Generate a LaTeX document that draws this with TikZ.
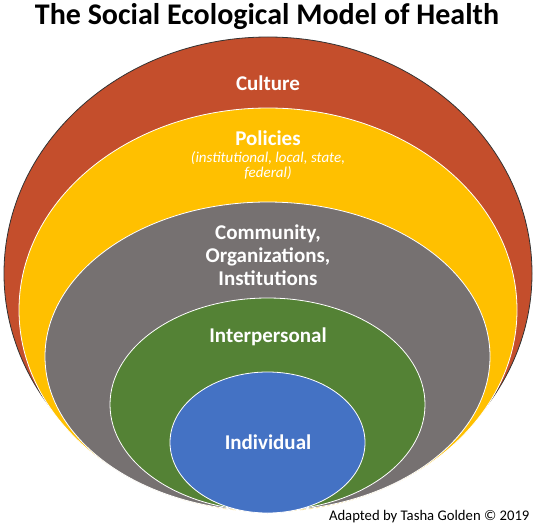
\documentclass[tikz,border=0pt]{standalone}
\usepackage{fontspec}
\setmainfont{Carlito}
\definecolor{culturered}{HTML}{C44E2C}
\definecolor{policyyellow}{HTML}{FFC000}
\definecolor{communitygray}{HTML}{767171}
\definecolor{interpgreen}{HTML}{548235}
\definecolor{indivblue}{HTML}{4472C4}
\tikzset{
    layer/.style={draw=white, line width=0.8pt},
    label/.style={text=white, font=\bfseries\fontsize{21}{23}\selectfont, align=center}
}
\begin{document}
\begin{tikzpicture}[x=1pt,y=-1pt]
        %Frame
            \useasboundingbox (0,0) rectangle (535,527);
        %Title
            \node (title) at (267,17) {\bfseries\fontsize{30}{32}\selectfont The Social Ecological Model of Health};
        %Layers
            \draw[fill=culturered, draw=black!80, line width=0.8pt] (268,273.5) ellipse [x radius=264pt, y radius=236.5pt];
            \draw[layer, fill=policyyellow] (268,310) ellipse [x radius=249pt, y radius=202pt];
            \draw[layer, fill=communitygray] (267.5,356.5) ellipse [x radius=222.5pt, y radius=154.5pt];
            \draw[layer, fill=interpgreen] (267.5,404.5) ellipse [x radius=157.5pt, y radius=106.5pt];
            \draw[layer, fill=indivblue] (267.5,442.5) ellipse [x radius=97.5pt, y radius=70.5pt];
        %Labels
            \node[label] (culture) at (268,83) {Culture};
            \node[label] (policies) at (268,138) {Policies};
            \node[text=white, font=\itshape\fontsize{15}{15}\selectfont, align=center] (levels) at (268,165.5) {(institutional, local, state,\\federal)};
            \node[label] (community) at (268,255) {Community,\\Organizations,\\Institutions};
            \node[label] (interpersonal) at (268,337) {Interpersonal};
            \node[label] (individual) at (268,442) {Individual};
        %Credit
            \node[anchor=east, font=\fontsize{14.7}{16}\selectfont] (credit) at (533,517) {Adapted by Tasha Golden © 2019};
    \end{tikzpicture}
\end{document}
